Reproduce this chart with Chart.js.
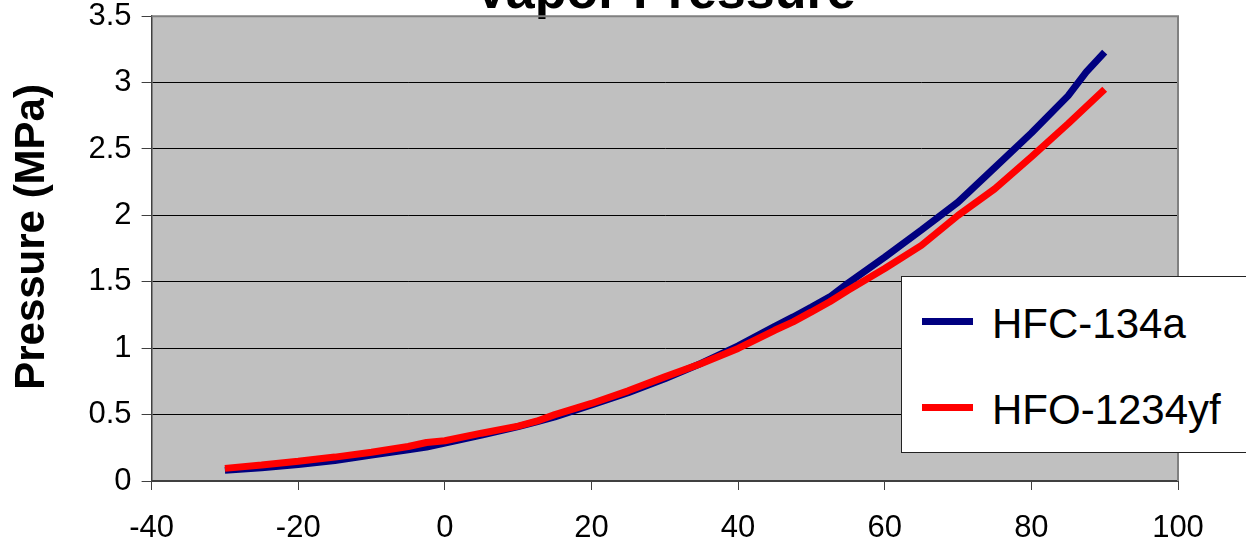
<!DOCTYPE html>
<html>
<head>
<meta charset="utf-8">
<title>Vapor Pressure</title>
<script src="https://cdn.jsdelivr.net/npm/chart.js@4.4.0/dist/chart.umd.min.js"></script>
<style>
  html, body { margin: 0; padding: 0; background: #fff; overflow: hidden; width: 1246px; height: 542px; }
  #wrap { position: absolute; left: 0; top: -28px; width: 1246px; height: 594px; }
  #leyenda {
    position: absolute; left: 901px; top: 276px; width: 380px; height: 174px;
    background: #fff; border: 1px solid #222; padding-top: 1px; box-sizing: content-box;
    font-family: "Liberation Sans", Arial, sans-serif; font-size: 42px; color: #000;
  }
  .item { height: 86px; display: flex; align-items: center; }
  .muestra { width: 51px; height: 7px; margin-left: 20px; }
  .texto { margin-left: 19px; line-height: 1; position: relative; top: 3px; }
</style>
</head>
<body>
<div id="wrap"><canvas id="grafico" width="1246" height="594"></canvas></div>
<div id="leyenda"></div>
<script>
// datos (temperatura en C, presion en MPa)
const temperaturas = [-30, -25, -20, -15, -10, -5, -2.5, 0, 5, 10, 12.5, 15, 20, 25, 30, 35, 40, 45, 47.5, 50, 52.5, 55, 60, 65, 70, 75, 80, 85, 87.5, 90];
const hfc134a = [0.080, 0.100, 0.125, 0.155, 0.195, 0.235, 0.255, 0.285, 0.345, 0.410, 0.445, 0.483, 0.572, 0.665, 0.770, 0.887, 1.017, 1.165, 1.235, 1.310, 1.386, 1.490, 1.686, 1.890, 2.100, 2.360, 2.620, 2.900, 3.080, 3.230];
const hfo1234yf = [0.095, 0.120, 0.148, 0.180, 0.216, 0.260, 0.290, 0.303, 0.360, 0.413, 0.450, 0.500, 0.584, 0.679, 0.784, 0.885, 0.998, 1.135, 1.198, 1.273, 1.350, 1.436, 1.600, 1.774, 2.000, 2.200, 2.440, 2.690, 2.820, 2.950];

const series = ['HFC-134a', 'HFO-1234yf'];
const colores = ['#000080', '#ff0000'];

// marcas de los ejes
const ticksX = [-40, -20, 0, 20, 40, 60, 80, 100];
const ticksY = [0, 0.5, 1, 1.5, 2, 2.5, 3, 3.5];

const fuente = '"Liberation Sans", Arial, sans-serif';

// junta temperatura y presion en puntos x/y
const puntos = (valores) => temperaturas.map((t, i) => ({ x: t, y: valores[i] }));

// fondo gris del area del grafico y borde superior/derecho
const fondoPlot = {
  id: 'fondoPlot',
  beforeDraw(chart) {
    const { ctx, chartArea: a } = chart;
    ctx.save();
    ctx.fillStyle = '#c0c0c0';
    ctx.fillRect(a.left, a.top, a.right - a.left, a.bottom - a.top);
    ctx.restore();
  },
  beforeDatasetsDraw(chart) {
    const { ctx, chartArea: a } = chart;
    ctx.save();
    ctx.strokeStyle = '#808080';
    ctx.lineWidth = 2;
    ctx.beginPath();
    ctx.moveTo(a.left, a.top);
    ctx.lineTo(a.right, a.top);
    ctx.lineTo(a.right, a.bottom);
    ctx.stroke();
    ctx.restore();
  }
};

const ctx = document.getElementById('grafico').getContext('2d');
const grafico = new Chart(ctx, {
  type: 'line',
  data: {
    datasets: [
      { label: series[0], data: puntos(hfc134a), borderColor: colores[0], backgroundColor: colores[0], order: 1 },
      { label: series[1], data: puntos(hfo1234yf), borderColor: colores[1], backgroundColor: colores[1], order: 0 }
    ]
  },
  options: {
    responsive: false,
    devicePixelRatio: 1,
    animation: false,
    elements: {
      line: { borderWidth: 7, tension: 0, fill: false, borderJoinStyle: 'bevel' },
      point: { radius: 0 }
    },
    layout: { padding: { left: 11.5, right: 68, top: 0, bottom: 0 } },
    plugins: {
      legend: { display: false },
      tooltip: { enabled: false },
      title: {
        display: true,
        text: 'Vapor Pressure',
        fullSize: false,
        color: '#000',
        font: { family: fuente, size: 52, weight: 'bold', lineHeight: 0.85 },
        padding: { top: 0, bottom: 0 }
      }
    },
    scales: {
      x: {
        type: 'linear',
        min: -40,
        max: 100,
        afterBuildTicks: (eje) => { eje.ticks = ticksX.map(v => ({ value: v })); },
        grid: { drawOnChartArea: false, drawTicks: true, tickLength: 9, tickColor: '#404040', tickWidth: 1 },
        border: { display: true, color: '#404040', width: 2 },
        ticks: {
          color: '#000',
          padding: 22.5,
          maxRotation: 0,
          font: { family: fuente, size: 31, lineHeight: 1 },
          callback: (v) => String(v)
        }
      },
      y: {
        min: 0,
        max: 3.5,
        afterBuildTicks: (eje) => { eje.ticks = ticksY.map(v => ({ value: v })); },
        grid: { color: '#000', lineWidth: 1, tickLength: 10, tickColor: '#404040' },
        border: { display: true, color: '#404040', width: 1.5 },
        ticks: {
          color: '#000',
          padding: 10,
          font: { family: fuente, size: 31 },
          callback: (v) => String(v)
        },
        title: {
          display: true,
          // los espacios del inicio suben un poco el titulo, como en el original
          text: '  Pressure (MPa)',
          color: '#000',
          font: { family: fuente, size: 42, weight: 'bold', lineHeight: 1 },
          padding: { top: 0, bottom: 25 }
        }
      }
    }
  },
  plugins: [fondoPlot]
});

// leyenda en html, armada desde los datasets
let itemsLeyenda = '';
grafico.data.datasets.forEach(ds => {
  itemsLeyenda += `
    <div class="item">
      <span class="muestra" style="background:${ds.borderColor}"></span>
      <span class="texto">${ds.label}</span>
    </div>
  `;
});
document.getElementById('leyenda').innerHTML = itemsLeyenda;
</script>
</body>
</html>
